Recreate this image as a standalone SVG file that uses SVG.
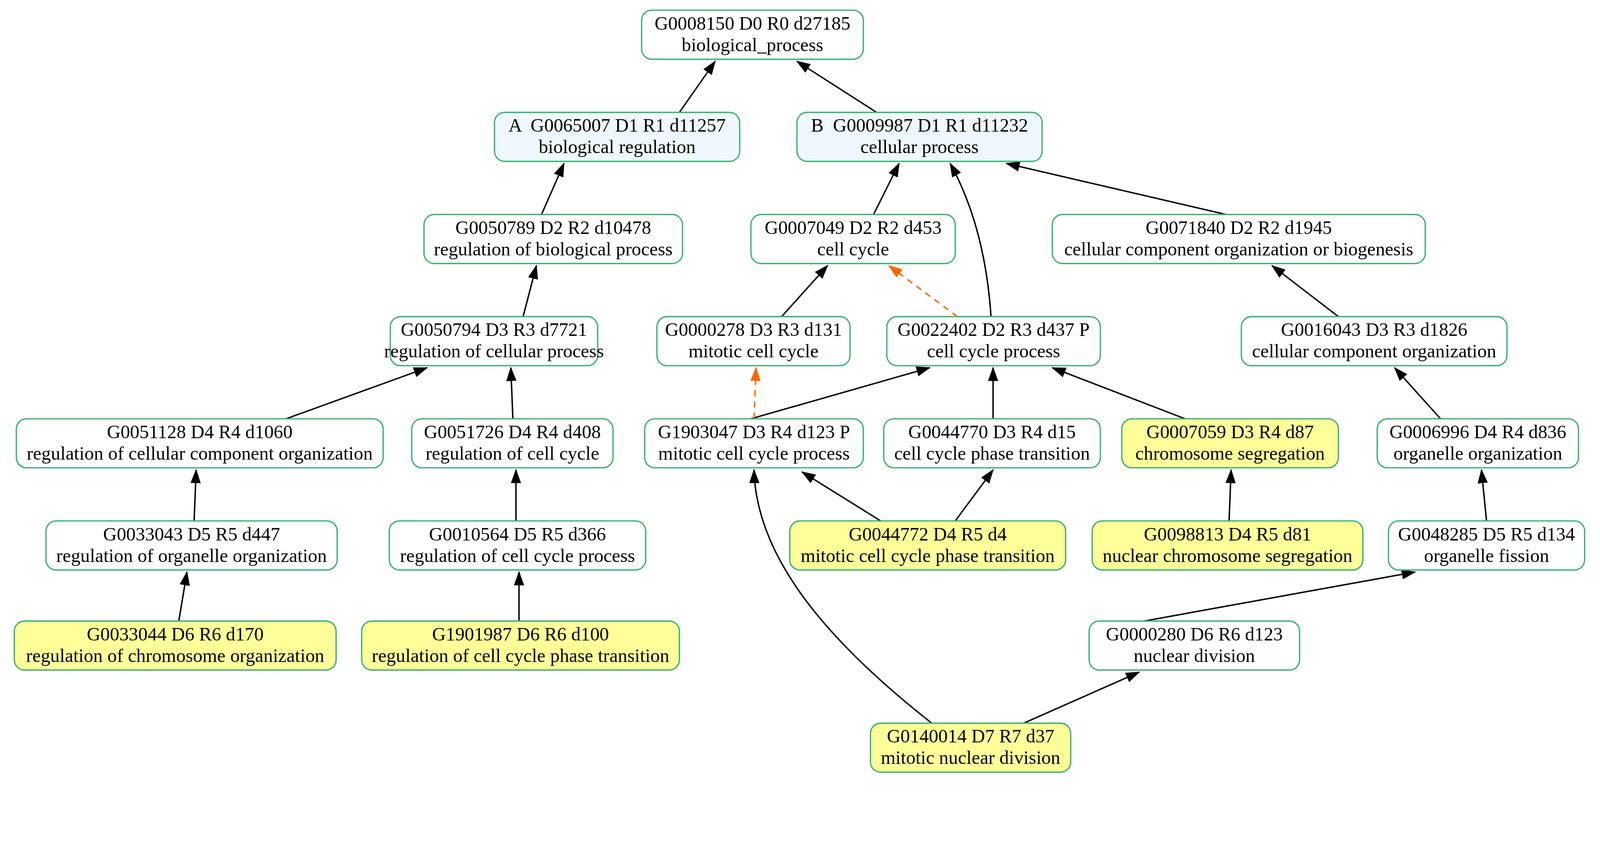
<svg xmlns="http://www.w3.org/2000/svg" width="4386" height="2156" viewBox="0 0 4386 2156">
<defs>
<style>
.n rect{stroke:#3cb371;stroke-width:1.3;fill:#fff}
.n.y rect{fill:#ffff99}
.n.b rect{fill:#f0f8ff}
.n text{font-family:"Liberation Serif","Times New Roman",serif;font-size:18.5px;text-anchor:middle;fill:#000;white-space:pre}
.e{fill:none;stroke:#000;stroke-width:1.4}
.d{fill:none;stroke:#ff6600;stroke-width:1.4;stroke-dasharray:6,5}
</style>
<marker id="ak" markerUnits="userSpaceOnUse" markerWidth="14" markerHeight="11" refX="13" refY="5" orient="auto" viewBox="0 0 14 10"><path d="M0,0 L14,5 L0,10 z" fill="#000"/></marker>
<marker id="ao" markerUnits="userSpaceOnUse" markerWidth="14" markerHeight="11" refX="13" refY="5" orient="auto" viewBox="0 0 14 10"><path d="M0,0 L14,5 L0,10 z" fill="#ff6600"/></marker>
</defs>
<rect width="4386" height="2156" fill="#fff"/>
<g transform="scale(2.6155)">
<g id="edges">
<path class="e" marker-end="url(#ak)" d="M665,110 L700,60"/>
<path class="e" marker-end="url(#ak)" d="M858,110 L780,60"/>
<path class="e" marker-end="url(#ak)" d="M530,210 L552,160"/>
<path class="e" marker-end="url(#ak)" d="M855,210 L880,160"/>
<path class="e" marker-end="url(#ak)" d="M970,310 C966,250 952,200 930,160"/>
<path class="e" marker-end="url(#ak)" d="M1200,210 L985,160"/>
<path class="e" marker-end="url(#ak)" d="M512,310 L525,260"/>
<path class="e" marker-end="url(#ak)" d="M765,310 L810,260"/>
<path class="d" marker-end="url(#ao)" d="M937,310 L870,260"/>
<path class="e" marker-end="url(#ak)" d="M1310,310 L1245,260"/>
<path class="e" marker-end="url(#ak)" d="M280,410 L418,360"/>
<path class="e" marker-end="url(#ak)" d="M502,410 L500,360"/>
<path class="e" marker-end="url(#ak)" d="M735,410 L910,360"/>
<path class="d" marker-end="url(#ao)" d="M738,410 L740,360"/>
<path class="e" marker-end="url(#ak)" d="M972,410 L972,360"/>
<path class="e" marker-end="url(#ak)" d="M1160,410 L1030,360"/>
<path class="e" marker-end="url(#ak)" d="M1410,410 L1365,360"/>
<path class="e" marker-end="url(#ak)" d="M190,510 L192,460"/>
<path class="e" marker-end="url(#ak)" d="M505,510 L505,460"/>
<path class="e" marker-end="url(#ak)" d="M862,510 L785,462"/>
<path class="e" marker-end="url(#ak)" d="M935,510 L972,460"/>
<path class="e" marker-end="url(#ak)" d="M1203,510 L1205,460"/>
<path class="e" marker-end="url(#ak)" d="M1455,510 L1450,460"/>
<path class="e" marker-end="url(#ak)" d="M175,608 L183,560"/>
<path class="e" marker-end="url(#ak)" d="M508,608 L508,560"/>
<path class="e" marker-end="url(#ak)" d="M1120,608 L1385,560"/>
<path class="e" marker-end="url(#ak)" d="M912,708 C800,620 740,540 738,460"/>
<path class="e" marker-end="url(#ak)" d="M1002,708 L1115,658"/>
</g>
<g id="GO0008150" class="n"><rect x="628" y="10" width="217" height="48" rx="10"/><text x="736.5" y="29">G0008150 D0 R0 d27185</text><text x="736.5" y="50">biological_process</text></g>
<g id="GO0065007" class="n b"><rect x="484" y="110" width="240" height="48" rx="10"/><text x="604" y="129">A  G0065007 D1 R1 d11257</text><text x="604" y="150">biological regulation</text></g>
<g id="GO0009987" class="n b"><rect x="780" y="110" width="240" height="48" rx="10"/><text x="900" y="129">B  G0009987 D1 R1 d11232</text><text x="900" y="150">cellular process</text></g>
<g id="GO0050789" class="n"><rect x="415" y="210" width="253" height="48" rx="10"/><text x="541.5" y="229">G0050789 D2 R2 d10478</text><text x="541.5" y="250">regulation of biological process</text></g>
<g id="GO0007049" class="n"><rect x="735" y="210" width="200" height="48" rx="10"/><text x="835" y="229">G0007049 D2 R2 d453</text><text x="835" y="250">cell cycle</text></g>
<g id="GO0071840" class="n"><rect x="1030" y="210" width="365" height="48" rx="10"/><text x="1212.5" y="229">G0071840 D2 R2 d1945</text><text x="1212.5" y="250">cellular component organization or biogenesis</text></g>
<g id="GO0050794" class="n"><rect x="382" y="310" width="203" height="48" rx="10"/><text x="483.5" y="329">G0050794 D3 R3 d7721</text><text x="483.5" y="350">regulation of cellular process</text></g>
<g id="GO0000278" class="n"><rect x="643" y="310" width="189" height="48" rx="10"/><text x="737.5" y="329">G0000278 D3 R3 d131</text><text x="737.5" y="350">mitotic cell cycle</text></g>
<g id="GO0022402" class="n"><rect x="868" y="310" width="209" height="48" rx="10"/><text x="972.5" y="329">G0022402 D2 R3 d437 P</text><text x="972.5" y="350">cell cycle process</text></g>
<g id="GO0016043" class="n"><rect x="1215" y="310" width="260" height="48" rx="10"/><text x="1345" y="329">G0016043 D3 R3 d1826</text><text x="1345" y="350">cellular component organization</text></g>
<g id="GO0051128" class="n"><rect x="16" y="410" width="359" height="48" rx="10"/><text x="195.5" y="429">G0051128 D4 R4 d1060</text><text x="195.5" y="450">regulation of cellular component organization</text></g>
<g id="GO0051726" class="n"><rect x="403" y="410" width="197" height="48" rx="10"/><text x="501.5" y="429">G0051726 D4 R4 d408</text><text x="501.5" y="450">regulation of cell cycle</text></g>
<g id="GO1903047" class="n"><rect x="631" y="410" width="214" height="48" rx="10"/><text x="738" y="429">G1903047 D3 R4 d123 P</text><text x="738" y="450">mitotic cell cycle process</text></g>
<g id="GO0044770" class="n"><rect x="865" y="410" width="212" height="48" rx="10"/><text x="971" y="429">G0044770 D3 R4 d15</text><text x="971" y="450">cell cycle phase transition</text></g>
<g id="GO0007059" class="n y"><rect x="1098" y="410" width="212" height="48" rx="10"/><text x="1204" y="429">G0007059 D3 R4 d87</text><text x="1204" y="450">chromosome segregation</text></g>
<g id="GO0006996" class="n"><rect x="1348" y="410" width="197" height="48" rx="10"/><text x="1446.5" y="429">G0006996 D4 R4 d836</text><text x="1446.5" y="450">organelle organization</text></g>
<g id="GO0033043" class="n"><rect x="45" y="510" width="285" height="48" rx="10"/><text x="187.5" y="529">G0033043 D5 R5 d447</text><text x="187.5" y="550">regulation of organelle organization</text></g>
<g id="GO0010564" class="n"><rect x="381" y="510" width="251" height="48" rx="10"/><text x="506.5" y="529">G0010564 D5 R5 d366</text><text x="506.5" y="550">regulation of cell cycle process</text></g>
<g id="GO0044772" class="n y"><rect x="773" y="510" width="270" height="48" rx="10"/><text x="908" y="529">G0044772 D4 R5 d4</text><text x="908" y="550">mitotic cell cycle phase transition</text></g>
<g id="GO0098813" class="n y"><rect x="1069" y="510" width="265" height="48" rx="10"/><text x="1201.5" y="529">G0098813 D4 R5 d81</text><text x="1201.5" y="550">nuclear chromosome segregation</text></g>
<g id="GO0048285" class="n"><rect x="1359" y="510" width="192" height="48" rx="10"/><text x="1455" y="529">G0048285 D5 R5 d134</text><text x="1455" y="550">organelle fission</text></g>
<g id="GO0033044" class="n y"><rect x="14" y="608" width="315" height="48" rx="10"/><text x="171.5" y="627">G0033044 D6 R6 d170</text><text x="171.5" y="648">regulation of chromosome organization</text></g>
<g id="GO1901987" class="n y"><rect x="354" y="608" width="311" height="48" rx="10"/><text x="509.5" y="627">G1901987 D6 R6 d100</text><text x="509.5" y="648">regulation of cell cycle phase transition</text></g>
<g id="GO0000280" class="n"><rect x="1066" y="608" width="206" height="48" rx="10"/><text x="1169" y="627">G0000280 D6 R6 d123</text><text x="1169" y="648">nuclear division</text></g>
<g id="GO0140014" class="n y"><rect x="852" y="708" width="196" height="48" rx="10"/><text x="950" y="727">G0140014 D7 R7 d37</text><text x="950" y="748">mitotic nuclear division</text></g>
</g>
</svg>
